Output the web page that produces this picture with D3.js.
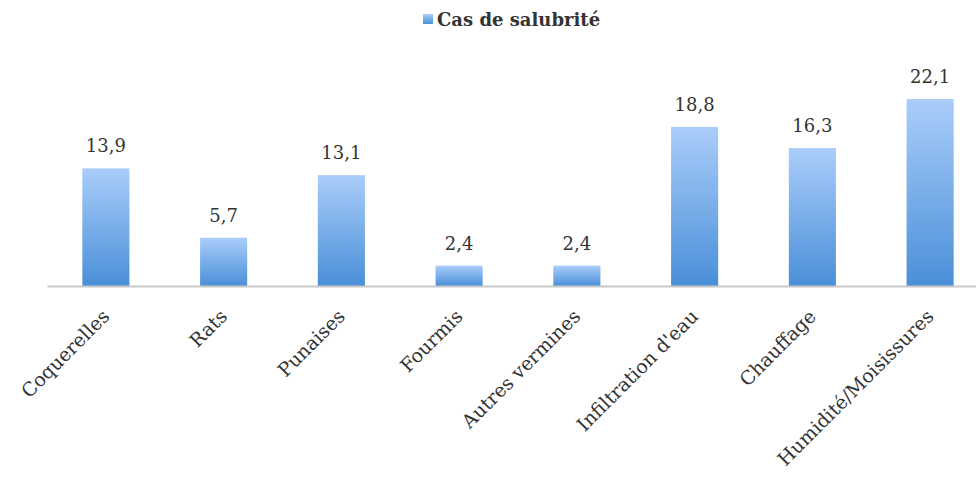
<!DOCTYPE html>
<html lang="fr">
<head>
<meta charset="UTF-8">
<title>Cas de salubrité</title>
<style>
  body { margin: 0; background: #fff; }
  text { font-family: "DejaVu Serif", "Liberation Serif", serif; fill: #333; }
</style>
</head>
<body>
<script src="https://d3js.org/d3.v7.min.js"></script>
<script>
const categories = ["Coquerelles", "Rats", "Punaises", "Fourmis", "Autres vermines",
                    "Infiltration d'eau", "Chauffage", "Humidité/Moisissures"];
const values = [13.9, 5.7, 13.1, 2.4, 2.4, 18.8, 16.3, 22.1];
const seriesName = "Cas de salubrité";

const width = 976, height = 478;
const baseY = 286;

const svg = d3.select("body").append("svg")
  .attr("width", width).attr("height", height);

const grad = svg.append("defs").append("linearGradient")
  .attr("id", "barGrad").attr("x1", 0).attr("y1", 0).attr("x2", 0).attr("y2", 1);
grad.append("stop").attr("offset", "0%").attr("stop-color", "#aacdfa");
grad.append("stop").attr("offset", "100%").attr("stop-color", "#4a8fd8");

const x = d3.scaleBand().domain(categories).range([47, 989]).paddingInner(0.6).paddingOuter(0.3);
const y = d3.scaleLinear().domain([0, 22.1]).range([baseY, 99]);

svg.selectAll("rect.bar")
  .data(values)
  .join("rect")
  .attr("class", "bar")
  .attr("x", (d, i) => x(categories[i]))
  .attr("y", d => y(d))
  .attr("width", x.bandwidth())
  .attr("height", d => baseY - y(d))
  .attr("fill", "url(#barGrad)");

svg.selectAll("text.val")
  .data(values)
  .join("text")
  .attr("class", "val")
  .attr("x", (d, i) => x(categories[i]) + x.bandwidth() / 2)
  .attr("y", d => y(d) - 16)
  .attr("text-anchor", "middle")
  .style("font-size", "18px")
  .text(d => d3.format(".1f")(d).replace(".", ","));

// axis
const axis = svg.append("g")
  .attr("transform", `translate(0,${baseY})`)
  .call(d3.axisBottom(x).tickSize(0).tickPadding(0));
axis.select(".domain").attr("stroke", "#c8c8c8").attr("stroke-width", 2);
axis.selectAll(".tick text")
  .attr("transform", "translate(0,27) rotate(-45)")
  .attr("text-anchor", "end")
  .attr("dy", "0.35em")
  .style("font-size", "19px")
  .style("font-family", "\"DejaVu Serif\", serif")
  .attr("fill", "#333");

// legend
const leg = svg.append("g");
leg.append("rect").attr("x", 423).attr("y", 14).attr("width", 10).attr("height", 10).attr("fill", "url(#barGrad)");
leg.append("text").attr("x", 437).attr("y", 26)
  .style("font-size", "18px").style("font-weight", "bold").attr("fill", "#444")
  .text(seriesName);
</script>
</body>
</html>
